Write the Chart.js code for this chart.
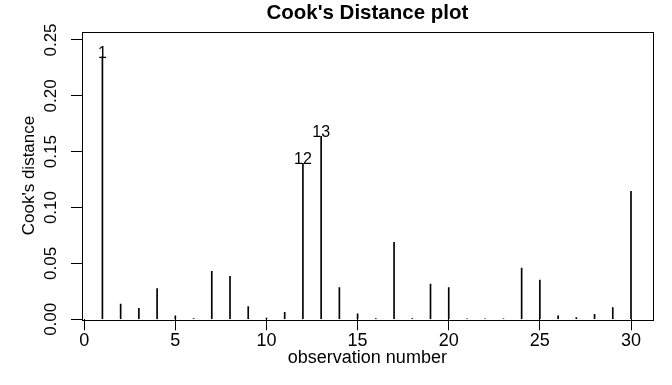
<!DOCTYPE html>
<html>
<head>
<meta charset="utf-8">
<script src="https://cdn.jsdelivr.net/npm/chart.js@4.4.1/dist/chart.umd.min.js"></script>
<style>
  html, body { margin: 0; padding: 0; background: #fff; }
  #wrap { width: 672px; height: 385px; }
</style>
</head>
<body>
<div id="wrap"><canvas id="c" width="672" height="385"></canvas></div>
<script>
// ---- data ----
const observations = [1,2,3,4,5,6,7,8,9,10,11,12,13,14,15,16,17,18,19,20,21,22,23,24,25,26,27,28,29,30];
const cooksDistance = [0.235,0.0137,0.0098,0.0274,0.0030,0.0006,0.0430,0.0385,0.0113,0.0012,
                       0.0063,0.1397,0.1637,0.0283,0.0048,0.0006,0.0689,0.0006,0.0316,0.0283,
                       0.0005,0.0005,0.0005,0.0459,0.0352,0.0030,0.0015,0.0045,0.0104,0.1146];
const labeledObs = [1, 12, 13];
const xTicks = [0, 5, 10, 15, 20, 25, 30];
const yTicks = [0, 0.05, 0.10, 0.15, 0.20, 0.25];

const FONT = '"Liberation Sans", Arial, Helvetica, sans-serif';

const decorations = {
  id: 'decorations',
  afterDraw(chart) {
    const {ctx, chartArea: a, scales: {x, y}} = chart;
    ctx.save();
    ctx.strokeStyle = '#000';
    ctx.lineWidth = 1;
    ctx.strokeRect(Math.round(a.left) + 0.5, Math.round(a.top) + 0.5,
                   Math.round(a.right - a.left), Math.round(a.bottom - a.top));
    // y tick labels (rotated, reading upward like R's default)
    ctx.fillStyle = '#000';
    ctx.font = '17px ' + FONT;
    ctx.textAlign = 'center';
    ctx.textBaseline = 'alphabetic';
    yTicks.forEach(v => {
      const py = y.getPixelForValue(v);
      ctx.save();
      ctx.translate(y.right - 26.5, py);
      ctx.rotate(-Math.PI / 2);
      ctx.fillText(v.toFixed(2), 0, 0);
      ctx.restore();
    });
    // identification labels of the largest distances
    ctx.font = '16px ' + FONT;
    labeledObs.forEach(o => {
      const i = observations.indexOf(o);
      const px = x.getPixelForValue(o);
      const py = y.getPixelForValue(cooksDistance[i]);
      ctx.fillText(String(o), px, py + 1);
    });
    ctx.restore();
  }
};

new Chart(document.getElementById('c'), {
  type: 'bar',
  data: {
    datasets: [{
      label: "Cook's distance",
      data: observations.map((o, i) => ({x: o, y: cooksDistance[i]})),
      backgroundColor: '#000',
      borderWidth: 0,
      barThickness: 1,
      grouped: false
    }]
  },
  options: {
    responsive: false,
    animation: false,
    devicePixelRatio: 1,
    layout: { padding: { left: 0, right: 19.3, top: 0, bottom: 0 } },
    plugins: {
      legend: { display: false },
      tooltip: { enabled: false },
      title: {
        display: true,
        text: "Cook's Distance plot",
        fullSize: false,
        color: '#000',
        font: { family: FONT, size: 20.5, weight: 'bold', lineHeight: 1.2 },
        padding: { top: 1.1, bottom: 6.0 }
      }
    },
    scales: {
      x: {
        type: 'linear',
        min: -0.12,
        max: 31.19,
        offset: false,
        afterBuildTicks: s => { s.ticks = xTicks.map(v => ({value: v})); },
        afterFit: s => { s.height = 385 - 319.3; },
        grid: { display: true, offset: false, drawOnChartArea: false, drawTicks: true, tickLength: 11, color: '#000', lineWidth: 1 },
        border: { display: false },
        ticks: { color: '#000', font: { family: FONT, size: 18 }, padding: 0, maxRotation: 0, minRotation: 0,
                 callback: v => String(v) },
        title: { display: true, text: 'observation number', color: '#000',
                 font: { family: FONT, size: 18, lineHeight: 1.2 }, padding: { top: 0, bottom: 16.4 } }
      },
      y: {
        type: 'linear',
        min: 0,
        max: 0.2574,
        afterBuildTicks: s => { s.ticks = yTicks.map(v => ({value: v})); },
        afterFit: s => { s.width = 82; },
        grid: { display: true, drawOnChartArea: false, drawTicks: true, tickLength: 11, color: '#000', lineWidth: 1 },
        border: { display: false },
        ticks: { display: false },
        title: { display: true, text: "Cook's distance", color: '#000',
                 font: { family: FONT, size: 17, lineHeight: 1.2 }, padding: { top: 18.8, bottom: 0 } }
      }
    }
  },
  plugins: [decorations]
});
</script>
</body>
</html>
